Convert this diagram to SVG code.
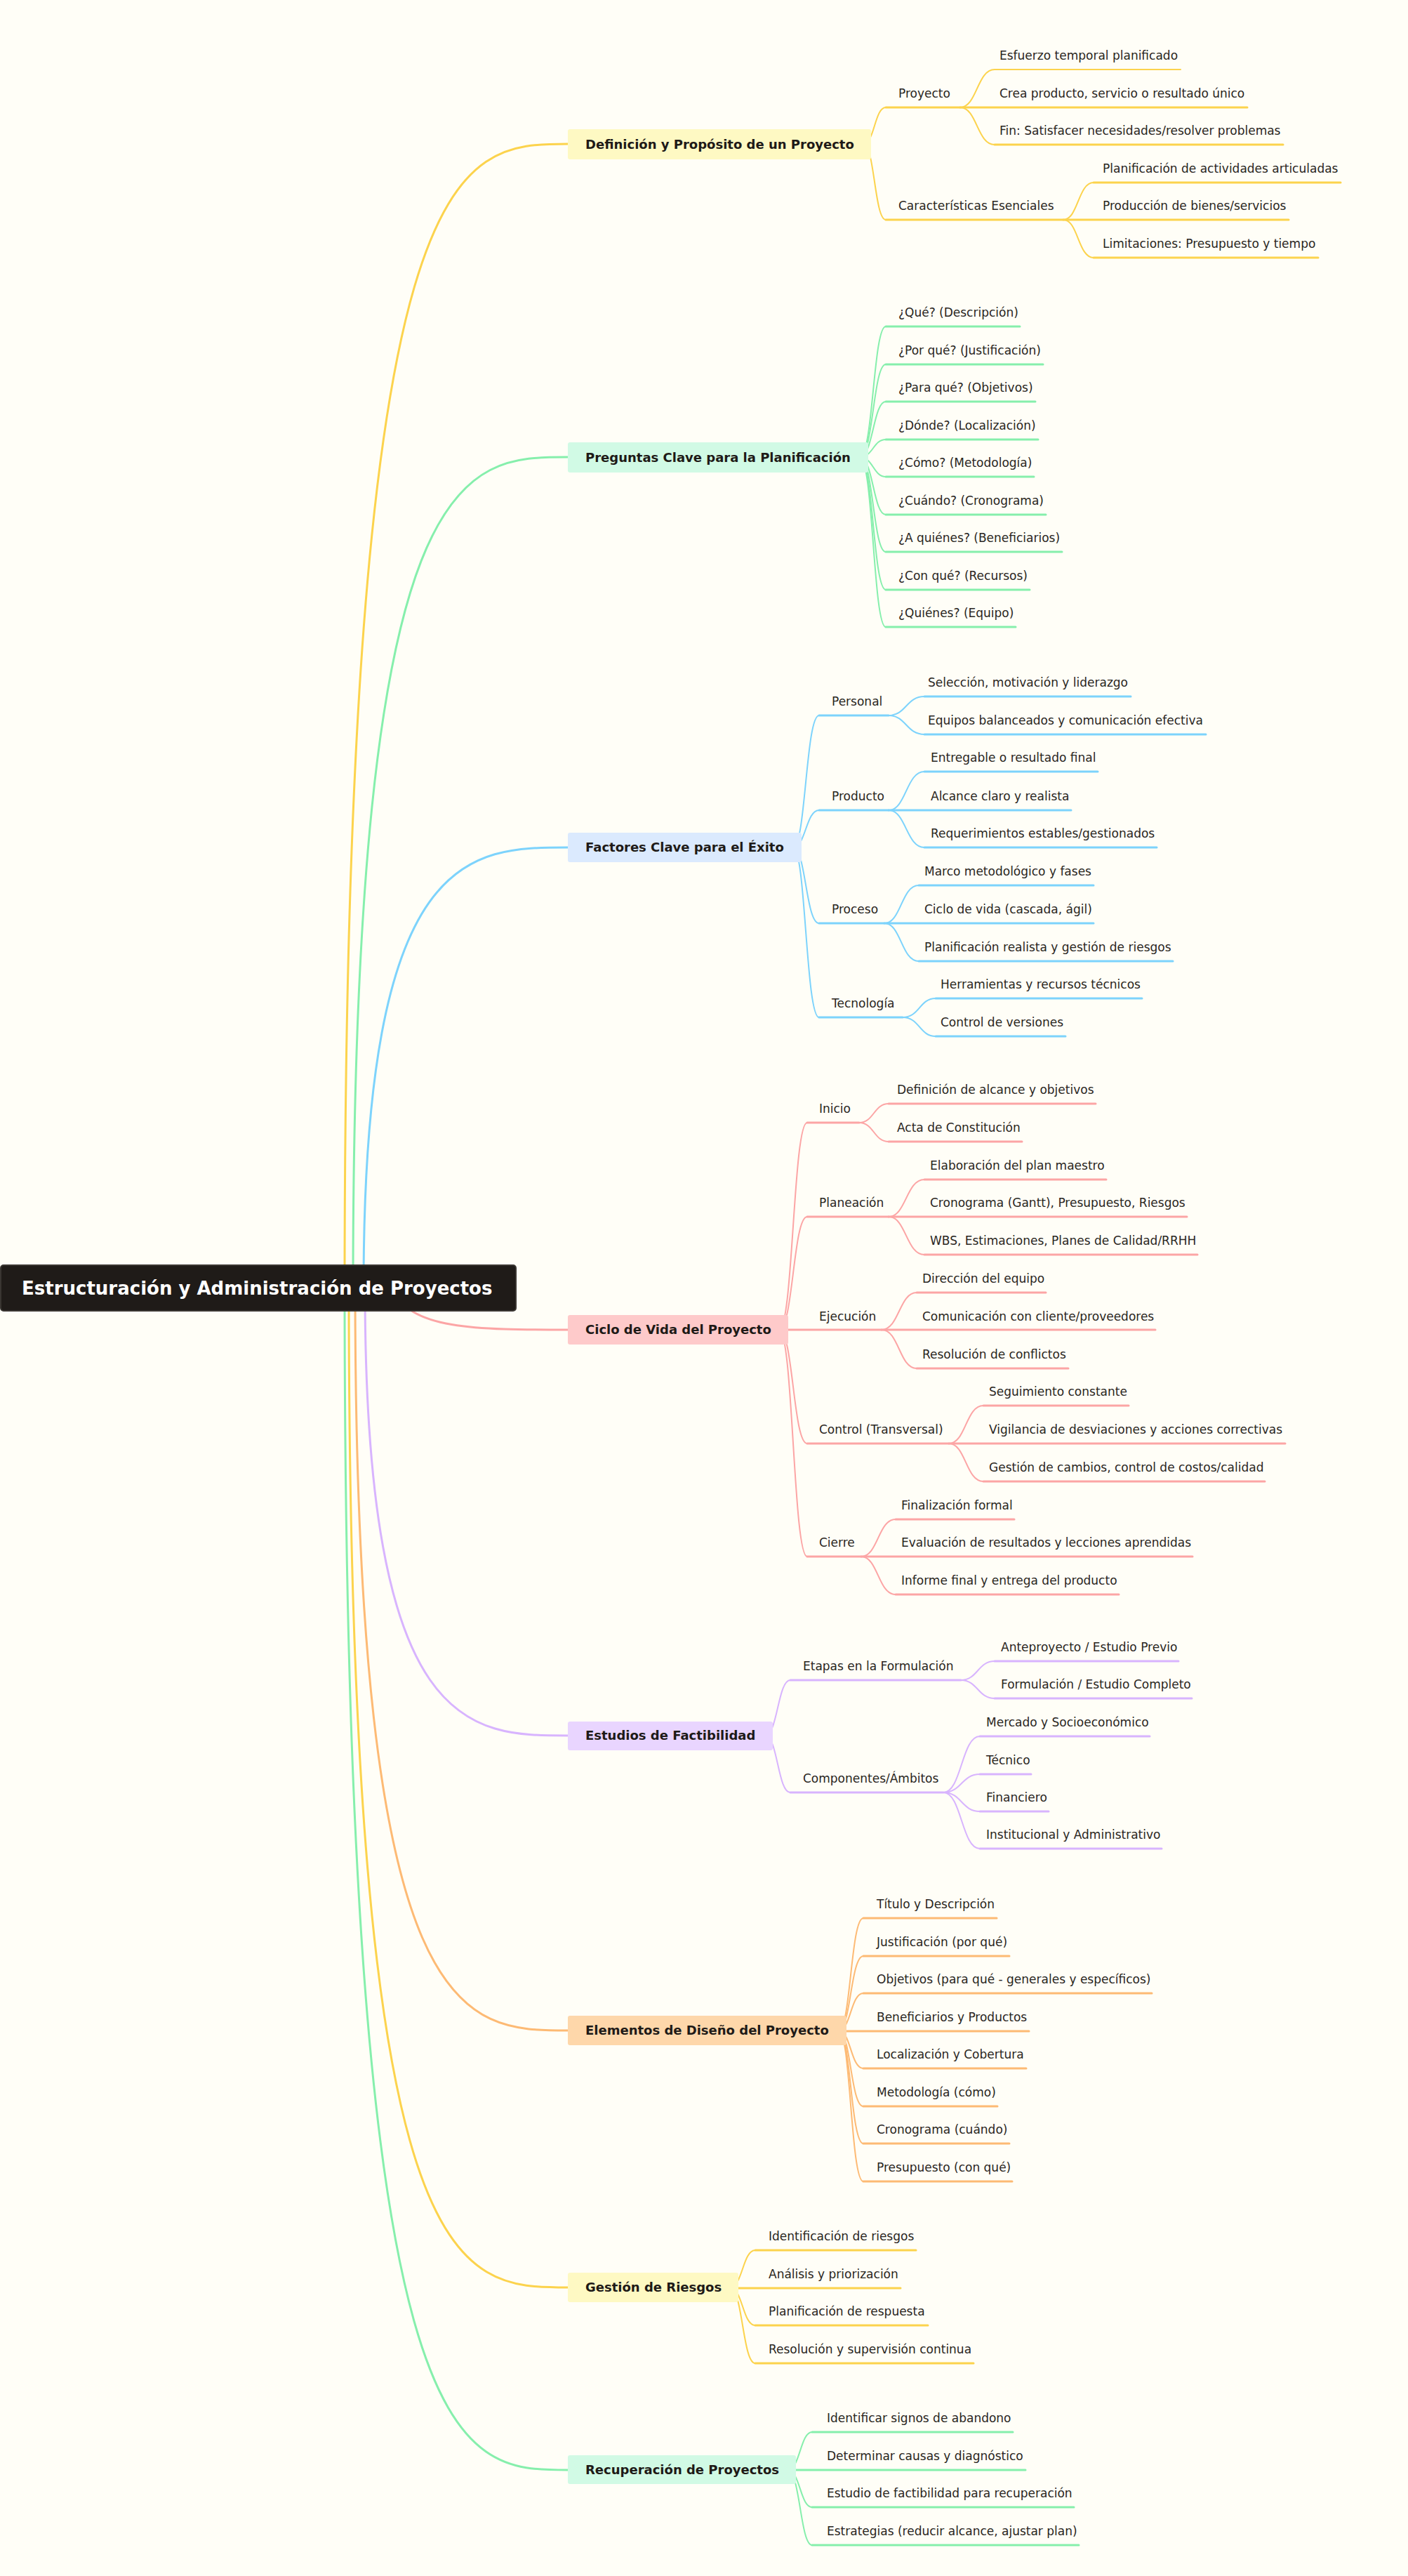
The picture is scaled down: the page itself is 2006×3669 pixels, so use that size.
<svg xmlns="http://www.w3.org/2000/svg" width="2006" height="3669" viewBox="0 0 2006 3669">
<style>
text{font-family:"DejaVu Sans","Liberation Sans",sans-serif;fill:#2a2622}
.t{font-size:17px}
.b{font-size:18px;font-weight:bold;fill:#1e1a17}
.r{font-size:26px;font-weight:bold;fill:#ffffff}
path{fill:none;stroke-linecap:round}
.c{stroke-width:2}
.u{stroke-width:3}
.y{stroke:#fcd34d}.g{stroke:#86efac}.bl{stroke:#7dd3fc}.p{stroke:#fca5a5}.v{stroke:#d8b4fe}.o{stroke:#fdba74}
</style>
<rect width="2006" height="3669" fill="#fffef7"/>
<g id="connectors">
<path class="u y" d="M491,1834 C491,205 650,205 809,205"/>
<path class="u g" d="M503,1834 C503,651 660,651 809,651"/>
<path class="u bl" d="M518,1834 C518,1207 670,1207 809,1207"/>
<path class="u p" d="M560,1834 C580,1894 680,1894 809,1894"/>
<path class="u v" d="M520,1834 C520,2472 670,2472 809,2472"/>
<path class="u o" d="M506,1834 C506,2892 660,2892 809,2892"/>
<path class="u y" d="M497,1834 C497,3258 650,3258 809,3258"/>
<path class="u g" d="M491,1834 C491,3518 650,3518 809,3518"/>
<path class="c y" d="M1230,205 C1246,205 1246,153 1262,153"/><path class="u y" d="M1262,153 H1368"/>
<path class="c y" d="M1230,205 C1246,205 1246,313 1262,313"/><path class="u y" d="M1262,313 H1515"/>
<path class="c y" d="M1368,153 C1392,153 1392,99 1417,99 H1682"/>
<path class="u y" d="M1368,153 H1777"/>
<path class="c y" d="M1368,153 C1392,153 1392,206 1417,206"/><path class="u y" d="M1417,206 H1828"/>
<path class="c y" d="M1515,313 C1536,313 1536,260 1558,260"/><path class="u y" d="M1558,260 H1910"/>
<path class="u y" d="M1515,313 H1836"/>
<path class="c y" d="M1515,313 C1536,313 1536,367 1558,367"/><path class="u y" d="M1558,367 H1878"/>
<path class="c g" d="M1225,651 C1244,651 1244,465 1262,465"/><path class="u g" d="M1262,465 H1453"/>
<path class="c g" d="M1225,651 C1244,651 1244,519 1262,519"/><path class="u g" d="M1262,519 H1486"/>
<path class="c g" d="M1225,651 C1244,651 1244,572 1262,572"/><path class="u g" d="M1262,572 H1475"/>
<path class="c g" d="M1225,651 C1244,651 1244,626 1262,626"/><path class="u g" d="M1262,626 H1479"/>
<path class="c g" d="M1225,651 C1244,651 1244,679 1262,679"/><path class="u g" d="M1262,679 H1473"/>
<path class="c g" d="M1225,651 C1244,651 1244,733 1262,733"/><path class="u g" d="M1262,733 H1490"/>
<path class="c g" d="M1225,651 C1244,651 1244,786 1262,786"/><path class="u g" d="M1262,786 H1513"/>
<path class="c g" d="M1225,651 C1244,651 1244,840 1262,840"/><path class="u g" d="M1262,840 H1467"/>
<path class="c g" d="M1225,651 C1244,651 1244,893 1262,893"/><path class="u g" d="M1262,893 H1447"/>
<path class="c bl" d="M1130,1207 C1148,1207 1148,1019 1167,1019"/><path class="u bl" d="M1167,1019 H1266"/>
<path class="c bl" d="M1130,1207 C1148,1207 1148,1154 1167,1154"/><path class="u bl" d="M1167,1154 H1266"/>
<path class="c bl" d="M1130,1207 C1148,1207 1148,1315 1167,1315"/><path class="u bl" d="M1167,1315 H1260"/>
<path class="c bl" d="M1130,1207 C1148,1207 1148,1449 1167,1449"/><path class="u bl" d="M1167,1449 H1286"/>
<path class="c bl" d="M1266,1019 C1291,1019 1291,992 1317,992"/><path class="u bl" d="M1317,992 H1611"/>
<path class="c bl" d="M1266,1019 C1291,1019 1291,1046 1317,1046"/><path class="u bl" d="M1317,1046 H1718"/>
<path class="c bl" d="M1266,1154 C1291,1154 1291,1099 1317,1099"/><path class="u bl" d="M1317,1099 H1564"/>
<path class="u bl" d="M1266,1154 H1526"/>
<path class="c bl" d="M1266,1154 C1291,1154 1291,1207 1317,1207"/><path class="u bl" d="M1317,1207 H1648"/>
<path class="c bl" d="M1260,1315 C1284,1315 1284,1261 1309,1261"/><path class="u bl" d="M1309,1261 H1558"/>
<path class="u bl" d="M1260,1315 H1558"/>
<path class="c bl" d="M1260,1315 C1284,1315 1284,1369 1309,1369"/><path class="u bl" d="M1309,1369 H1671"/>
<path class="c bl" d="M1286,1449 C1310,1449 1310,1422 1333,1422"/><path class="u bl" d="M1333,1422 H1627"/>
<path class="c bl" d="M1286,1449 C1310,1449 1310,1476 1333,1476"/><path class="u bl" d="M1333,1476 H1518"/>
<path class="c p" d="M1110,1894 C1130,1894 1130,1599 1150,1599"/><path class="u p" d="M1150,1599 H1224"/>
<path class="c p" d="M1110,1894 C1130,1894 1130,1733 1150,1733"/><path class="u p" d="M1150,1733 H1266"/>
<path class="u p" d="M1110,1894 H1256"/>
<path class="c p" d="M1110,1894 C1130,1894 1130,2056 1150,2056"/><path class="u p" d="M1150,2056 H1352"/>
<path class="c p" d="M1110,1894 C1130,1894 1130,2217 1150,2217"/><path class="u p" d="M1150,2217 H1227"/>
<path class="c p" d="M1224,1599 C1245,1599 1245,1572 1266,1572"/><path class="u p" d="M1266,1572 H1561"/>
<path class="c p" d="M1224,1599 C1245,1599 1245,1626 1266,1626"/><path class="u p" d="M1266,1626 H1456"/>
<path class="c p" d="M1266,1733 C1291,1733 1291,1680 1317,1680"/><path class="u p" d="M1317,1680 H1576"/>
<path class="u p" d="M1266,1733 H1691"/>
<path class="c p" d="M1266,1733 C1291,1733 1291,1787 1317,1787"/><path class="u p" d="M1317,1787 H1706"/>
<path class="c p" d="M1256,1894 C1281,1894 1281,1841 1306,1841"/><path class="u p" d="M1306,1841 H1490"/>
<path class="u p" d="M1256,1894 H1646"/>
<path class="c p" d="M1256,1894 C1281,1894 1281,1949 1306,1949"/><path class="u p" d="M1306,1949 H1522"/>
<path class="c p" d="M1352,2056 C1376,2056 1376,2002 1401,2002"/><path class="u p" d="M1401,2002 H1608"/>
<path class="u p" d="M1352,2056 H1831"/>
<path class="c p" d="M1352,2056 C1376,2056 1376,2110 1401,2110"/><path class="u p" d="M1401,2110 H1802"/>
<path class="c p" d="M1227,2217 C1251,2217 1251,2164 1276,2164"/><path class="u p" d="M1276,2164 H1445"/>
<path class="u p" d="M1227,2217 H1699"/>
<path class="c p" d="M1227,2217 C1251,2217 1251,2271 1276,2271"/><path class="u p" d="M1276,2271 H1594"/>
<path class="c v" d="M1090,2472 C1108,2472 1108,2393 1126,2393"/><path class="u v" d="M1126,2393 H1369"/>
<path class="c v" d="M1090,2472 C1108,2472 1108,2553 1126,2553"/><path class="u v" d="M1126,2553 H1344"/>
<path class="c v" d="M1369,2393 C1393,2393 1393,2366 1417,2366"/><path class="u v" d="M1417,2366 H1679"/>
<path class="c v" d="M1369,2393 C1393,2393 1393,2419 1417,2419"/><path class="u v" d="M1417,2419 H1698"/>
<path class="c v" d="M1344,2553 C1370,2553 1370,2473 1396,2473"/><path class="u v" d="M1396,2473 H1638"/>
<path class="c v" d="M1344,2553 C1370,2553 1370,2527 1396,2527"/><path class="u v" d="M1396,2527 H1469"/>
<path class="c v" d="M1344,2553 C1370,2553 1370,2580 1396,2580"/><path class="u v" d="M1396,2580 H1494"/>
<path class="c v" d="M1344,2553 C1370,2553 1370,2633 1396,2633"/><path class="u v" d="M1396,2633 H1655"/>
<path class="c o" d="M1195,2892 C1212,2892 1212,2732 1230,2732"/><path class="u o" d="M1230,2732 H1420"/>
<path class="c o" d="M1195,2892 C1212,2892 1212,2786 1230,2786"/><path class="u o" d="M1230,2786 H1438"/>
<path class="c o" d="M1195,2892 C1212,2892 1212,2839 1230,2839"/><path class="u o" d="M1230,2839 H1641"/>
<path class="u o" d="M1195,2893 H1466"/>
<path class="c o" d="M1195,2892 C1212,2892 1212,2946 1230,2946"/><path class="u o" d="M1230,2946 H1462"/>
<path class="c o" d="M1195,2892 C1212,2892 1212,3000 1230,3000"/><path class="u o" d="M1230,3000 H1421"/>
<path class="c o" d="M1195,2892 C1212,2892 1212,3053 1230,3053"/><path class="u o" d="M1230,3053 H1438"/>
<path class="c o" d="M1195,2892 C1212,2892 1212,3107 1230,3107"/><path class="u o" d="M1230,3107 H1442"/>
<path class="c y" d="M1040,3258 C1058,3258 1058,3205 1076,3205"/><path class="u y" d="M1076,3205 H1305"/>
<path class="u y" d="M1040,3259 H1283"/>
<path class="c y" d="M1040,3258 C1058,3258 1058,3312 1076,3312"/><path class="u y" d="M1076,3312 H1322"/>
<path class="c y" d="M1040,3258 C1058,3258 1058,3366 1076,3366"/><path class="u y" d="M1076,3366 H1387"/>
<path class="c g" d="M1122,3518 C1140,3518 1140,3464 1157,3464"/><path class="u g" d="M1157,3464 H1443"/>
<path class="u g" d="M1122,3518 H1461"/>
<path class="c g" d="M1122,3518 C1140,3518 1140,3571 1157,3571"/><path class="u g" d="M1157,3571 H1530"/>
<path class="c g" d="M1122,3518 C1140,3518 1140,3625 1157,3625"/><path class="u g" d="M1157,3625 H1537"/>
</g>
<g id="root"><rect x="1" y="1802" width="734" height="65" rx="4" fill="#1f1b18" stroke="#3a3632" stroke-width="2"/><text class="r" x="31" y="1844">Estructuración y Administración de Proyectos</text></g>
<g id="n-definicion"><rect x="809" y="184" width="432" height="43" rx="3" fill="#fef9c3"/><text class="b" x="834" y="212">Definición y Propósito de un Proyecto</text>
<text class="t" x="1280" y="139">Proyecto</text><text class="t" x="1280" y="299">Características Esenciales</text>
<text class="t" x="1424" y="85">Esfuerzo temporal planificado</text><text class="t" x="1424" y="139">Crea producto, servicio o resultado único</text><text class="t" x="1424" y="192">Fin: Satisfacer necesidades/resolver problemas</text>
<text class="t" x="1571" y="246">Planificación de actividades articuladas</text><text class="t" x="1571" y="299">Producción de bienes/servicios</text><text class="t" x="1571" y="353">Limitaciones: Presupuesto y tiempo</text></g>
<g id="n-preguntas"><rect x="809" y="630" width="428" height="43" rx="3" fill="#d1fae5"/><text class="b" x="834" y="658">Preguntas Clave para la Planificación</text>
<text class="t" x="1280" y="451">¿Qué? (Descripción)</text><text class="t" x="1280" y="505">¿Por qué? (Justificación)</text><text class="t" x="1280" y="558">¿Para qué? (Objetivos)</text><text class="t" x="1280" y="612">¿Dónde? (Localización)</text><text class="t" x="1280" y="665">¿Cómo? (Metodología)</text><text class="t" x="1280" y="719">¿Cuándo? (Cronograma)</text><text class="t" x="1280" y="772">¿A quiénes? (Beneficiarios)</text><text class="t" x="1280" y="826">¿Con qué? (Recursos)</text><text class="t" x="1280" y="879">¿Quiénes? (Equipo)</text></g>
<g id="n-factores"><rect x="809" y="1186" width="333" height="42" rx="3" fill="#dbeafe"/><text class="b" x="834" y="1213">Factores Clave para el Éxito</text>
<text class="t" x="1185" y="1005">Personal</text><text class="t" x="1185" y="1140">Producto</text><text class="t" x="1185" y="1301">Proceso</text><text class="t" x="1185" y="1435">Tecnología</text>
<text class="t" x="1322" y="978">Selección, motivación y liderazgo</text><text class="t" x="1322" y="1032">Equipos balanceados y comunicación efectiva</text>
<text class="t" x="1326" y="1085">Entregable o resultado final</text><text class="t" x="1326" y="1140">Alcance claro y realista</text><text class="t" x="1326" y="1193">Requerimientos estables/gestionados</text>
<text class="t" x="1317" y="1247">Marco metodológico y fases</text><text class="t" x="1317" y="1301">Ciclo de vida (cascada, ágil)</text><text class="t" x="1317" y="1355">Planificación realista y gestión de riesgos</text>
<text class="t" x="1340" y="1408">Herramientas y recursos técnicos</text><text class="t" x="1340" y="1462">Control de versiones</text></g>
<g id="n-ciclo"><rect x="809" y="1873" width="314" height="42" rx="3" fill="#fecaca"/><text class="b" x="834" y="1900">Ciclo de Vida del Proyecto</text>
<text class="t" x="1167" y="1585">Inicio</text><text class="t" x="1167" y="1719">Planeación</text><text class="t" x="1167" y="1881">Ejecución</text><text class="t" x="1167" y="2042">Control (Transversal)</text><text class="t" x="1167" y="2203">Cierre</text>
<text class="t" x="1278" y="1558">Definición de alcance y objetivos</text><text class="t" x="1278" y="1612">Acta de Constitución</text>
<text class="t" x="1325" y="1666">Elaboración del plan maestro</text><text class="t" x="1325" y="1719">Cronograma (Gantt), Presupuesto, Riesgos</text><text class="t" x="1325" y="1773">WBS, Estimaciones, Planes de Calidad/RRHH</text>
<text class="t" x="1314" y="1827">Dirección del equipo</text><text class="t" x="1314" y="1881">Comunicación con cliente/proveedores</text><text class="t" x="1314" y="1935">Resolución de conflictos</text>
<text class="t" x="1409" y="1988">Seguimiento constante</text><text class="t" x="1409" y="2042">Vigilancia de desviaciones y acciones correctivas</text><text class="t" x="1409" y="2096">Gestión de cambios, control de costos/calidad</text>
<text class="t" x="1284" y="2150">Finalización formal</text><text class="t" x="1284" y="2203">Evaluación de resultados y lecciones aprendidas</text><text class="t" x="1284" y="2257">Informe final y entrega del producto</text></g>
<g id="n-estudios"><rect x="809" y="2452" width="292" height="41" rx="3" fill="#e9d5ff"/><text class="b" x="834" y="2478">Estudios de Factibilidad</text>
<text class="t" x="1144" y="2379">Etapas en la Formulación</text><text class="t" x="1144" y="2539">Componentes/Ámbitos</text>
<text class="t" x="1426" y="2352">Anteproyecto / Estudio Previo</text><text class="t" x="1426" y="2405">Formulación / Estudio Completo</text>
<text class="t" x="1405" y="2459">Mercado y Socioeconómico</text><text class="t" x="1405" y="2513">Técnico</text><text class="t" x="1405" y="2566">Financiero</text><text class="t" x="1405" y="2619">Institucional y Administrativo</text></g>
<g id="n-elementos"><rect x="809" y="2871" width="397" height="42" rx="3" fill="#fed7aa"/><text class="b" x="834" y="2898">Elementos de Diseño del Proyecto</text>
<text class="t" x="1249" y="2718">Título y Descripción</text><text class="t" x="1249" y="2772">Justificación (por qué)</text><text class="t" x="1249" y="2825">Objetivos (para qué - generales y específicos)</text><text class="t" x="1249" y="2879">Beneficiarios y Productos</text><text class="t" x="1249" y="2932">Localización y Cobertura</text><text class="t" x="1249" y="2986">Metodología (cómo)</text><text class="t" x="1249" y="3039">Cronograma (cuándo)</text><text class="t" x="1249" y="3093">Presupuesto (con qué)</text></g>
<g id="n-gestion"><rect x="809" y="3237" width="243" height="42" rx="3" fill="#fef9c3"/><text class="b" x="834" y="3264">Gestión de Riesgos</text>
<text class="t" x="1095" y="3191">Identificación de riesgos</text><text class="t" x="1095" y="3245">Análisis y priorización</text><text class="t" x="1095" y="3298">Planificación de respuesta</text><text class="t" x="1095" y="3352">Resolución y supervisión continua</text></g>
<g id="n-recuperacion"><rect x="809" y="3497" width="325" height="41" rx="3" fill="#d1fae5"/><text class="b" x="834" y="3524">Recuperación de Proyectos</text>
<text class="t" x="1178" y="3450">Identificar signos de abandono</text><text class="t" x="1178" y="3504">Determinar causas y diagnóstico</text><text class="t" x="1178" y="3557">Estudio de factibilidad para recuperación</text><text class="t" x="1178" y="3611">Estrategias (reducir alcance, ajustar plan)</text></g>
</svg>
